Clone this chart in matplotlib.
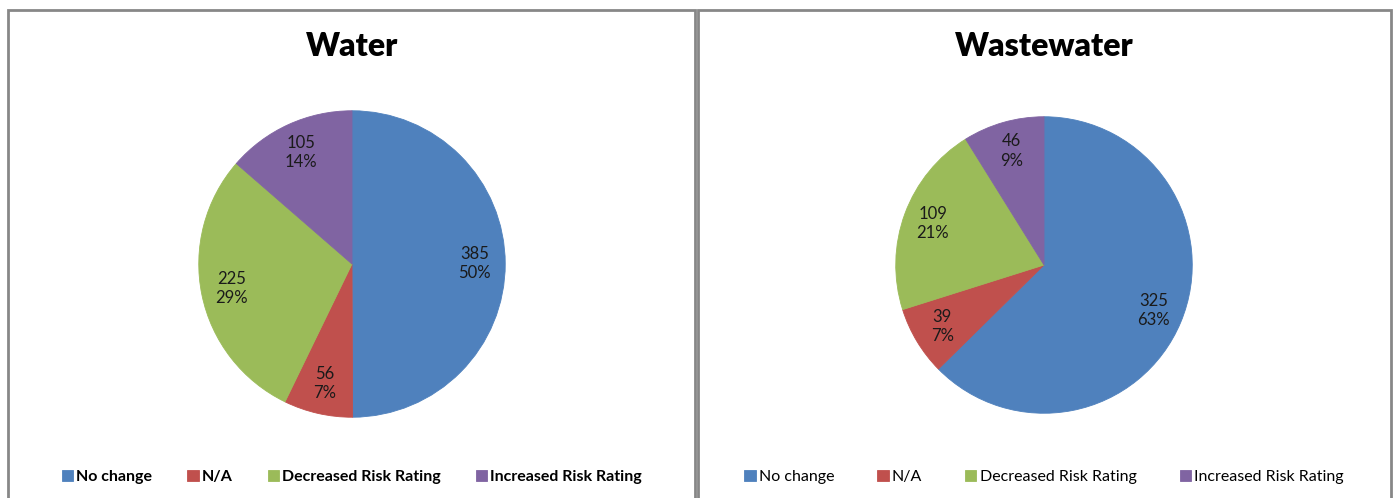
import matplotlib
matplotlib.use("Agg")
import matplotlib.pyplot as plt
from matplotlib.patches import Rectangle

categories = ["No change", "N/A", "Decreased Risk Rating", "Increased Risk Rating"]
water_values = [385, 56, 225, 105]
water_pct_labels = ["50%", "7%", "29%", "14%"]
wastewater_values = [325, 39, 109, 46]
wastewater_pct_labels = ["63%", "7%", "21%", "9%"]
titles = ["Water", "Wastewater"]
colors = ["#4F81BD", "#C0504D", "#9BBB59", "#8064A2"]

W, H = 1393, 498
fig = plt.figure(figsize=(W / 100, H / 100), dpi=100)
plt.rcParams['font.family'] = ['Lato', 'DejaVu Sans']

def fx(px):
    return px / W

def fy(py):
    return 1 - py / H

# panel borders
for x0, x1 in [(8, 695), (698, 1391)]:
    fig.patches.append(Rectangle((fx(x0), fy(520)), fx(x1 - x0), (520 - 10) / H,
                                 transform=fig.transFigure, fill=False,
                                 edgecolor="#878787", linewidth=2))

panels = [
    (water_values, water_pct_labels, titles[0], 352, 264, 154, "bold", 2.2),
    (wastewater_values, wastewater_pct_labels, titles[1], 1044, 265, 149, "normal", 2.7),
]

for values, pcts, title, cx, cy, r, lw, cs in panels:
    ax = fig.add_axes([fx(cx - r), fy(cy + r), fx(2 * r), 2 * r / H])
    labels_iter = iter([f"{v}\n{p}" for v, p in zip(values, pcts)])
    wedges, texts, autotexts = ax.pie(
        values, colors=colors, startangle=90, counterclock=False,
        autopct=lambda p: next(labels_iter),
        pctdistance=0.8, textprops=dict(fontsize=12, color="#1a1a1a",
                                        linespacing=1.25),
        wedgeprops=dict(linewidth=0))
    for w in wedges:
        w.set_edgecolor(w.get_facecolor())
        w.set_linewidth(0.6)
    ax.set_xlim(-1.005, 1.005)
    ax.set_ylim(-1.005, 1.005)
    ax.set_aspect("equal")
    fig.text(fx(cx), fy(46), title, ha="center", va="center",
             fontsize=23, fontweight="heavy")
    fig.legend(wedges, categories, loc="center", bbox_to_anchor=(fx(cx), fy(477)),
               ncol=4, frameon=False, prop=dict(size=11.5, weight=lw),
               handlelength=0.7, handleheight=0.7, handletextpad=0.2,
               columnspacing=cs)

fig.savefig("out.png", dpi=100)
